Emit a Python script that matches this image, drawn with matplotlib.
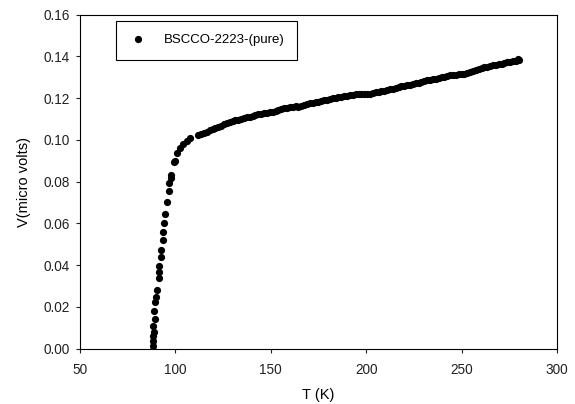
import matplotlib.pyplot as plt

plt.rcParams['font.family'] = ['Liberation Sans', 'DejaVu Sans']

t_steep = [88.1, 88.4, 88.4, 89.0, 88.4, 89.1, 88.8, 89.5, 89.8, 90.2,
           91.2, 91.2, 91.6, 92.3, 92.6, 93.3, 93.7, 94.0, 94.7, 95.8,
           96.5, 96.8, 97.5, 97.8, 99.3, 99.9, 101.0, 102.4, 103.8, 105.9,
           107.7]
v_steep = [0.0013, 0.0038, 0.0062, 0.0081, 0.0109, 0.0141, 0.0179, 0.0225, 0.0249, 0.0281,
           0.0337, 0.0369, 0.0396, 0.0438, 0.0473, 0.0521, 0.0560, 0.0604, 0.0645, 0.0701,
           0.0757, 0.0792, 0.0816, 0.0834, 0.0893, 0.0900, 0.0936, 0.0960, 0.0980, 0.0995,
           0.1008]

# normal-state region (dense band)
t_band = [112, 113.5, 115, 116.5, 118, 119.5, 121, 122.5, 124, 125.5,
          127, 128.5, 130, 131.5, 133, 134.5, 136, 137.5, 139, 140.5,
          142, 143.5, 145, 146.5, 148, 149.5, 151, 152.5, 154, 155.5,
          157, 158.5, 160, 161.5, 163, 164.5, 166, 167.5, 169, 170.5,
          172, 173.5, 175, 176.5, 178, 179.5, 181, 182.5, 184, 185.5,
          187, 188.5, 190, 191.5, 193, 194.5, 196, 197.5, 199, 200.5,
          202, 203.5, 205, 206.5, 208, 209.5, 211, 212.5, 214, 215.5,
          217, 218.5, 220, 221.5, 223, 224.5, 226, 227.5, 229, 230.5,
          232, 233.5, 235, 236.5, 238, 239.5, 241, 242.5, 244, 245.5,
          247, 248.5, 250, 251.5, 253, 254.5, 256, 257.5, 259, 260.5,
          262, 263.5, 265, 266.5, 268, 269.5, 271, 272.5, 274, 275.5,
          277, 278.5, 279.5, 280]
v_band = [0.1022, 0.1028, 0.1034, 0.1040, 0.1046, 0.1052, 0.1059, 0.1063, 0.1068, 0.1074,
          0.1079, 0.1085, 0.1090, 0.1094, 0.1097, 0.1102, 0.1106, 0.1110, 0.1112, 0.1116,
          0.1118, 0.1122, 0.1125, 0.1128, 0.1130, 0.1132, 0.1136, 0.1140, 0.1144, 0.1148,
          0.1151, 0.1153, 0.1156, 0.1158, 0.1161, 0.1160, 0.1162, 0.1167, 0.1172, 0.1176,
          0.1178, 0.1180, 0.1183, 0.1186, 0.1190, 0.1193, 0.1196, 0.1199, 0.1201, 0.1204,
          0.1206, 0.1209, 0.1212, 0.1215, 0.1216, 0.1218, 0.1219, 0.1219, 0.1220, 0.1220,
          0.1222, 0.1225, 0.1228, 0.1231, 0.1234, 0.1236, 0.1239, 0.1242, 0.1246, 0.1249,
          0.1253, 0.1256, 0.1259, 0.1262, 0.1265, 0.1268, 0.1272, 0.1275, 0.1278, 0.1282,
          0.1285, 0.1288, 0.1291, 0.1294, 0.1297, 0.1300, 0.1303, 0.1306, 0.1309, 0.1311,
          0.1313, 0.1314, 0.1315, 0.1317, 0.1320, 0.1325, 0.1330, 0.1335, 0.1340, 0.1344,
          0.1348, 0.1351, 0.1354, 0.1357, 0.1359, 0.1362, 0.1365, 0.1368, 0.1371, 0.1373,
          0.1376, 0.1379, 0.1390, 0.1382]

T = t_steep + t_band
V = v_steep + v_band

fig = plt.figure(figsize=(5.75, 4.04), dpi=100)
ax = fig.add_axes([0.139, 0.137, 0.8296, 0.8267])

ax.plot(T, V, 'o', color='black', markersize=5.2, markeredgewidth=0,
        label='BSCCO-2223-(pure)')

ax.set_xlim(50, 300)
ax.set_ylim(0, 0.16)
ax.set_xticks([50, 100, 150, 200, 250, 300])
ax.set_yticks([0.00, 0.02, 0.04, 0.06, 0.08, 0.10, 0.12, 0.14, 0.16])
ax.set_yticklabels(['0.00', '0.02', '0.04', '0.06', '0.08', '0.10', '0.12', '0.14', '0.16'])
ax.tick_params(direction='out', length=3, width=0.8, labelsize=9.8, colors='#222222')
ax.tick_params(axis='x', pad=7)
ax.tick_params(axis='y', pad=4)
for s in ax.spines.values():
    s.set_linewidth(0.8)

ax.set_xlabel('T (K)', fontsize=10.5, labelpad=8)
ax.set_ylabel('V(micro volts)', fontsize=10.5, labelpad=9)

leg = ax.legend(loc='upper left', bbox_to_anchor=(0.0755, 0.981), borderaxespad=0,
                fancybox=False, edgecolor='black', framealpha=1, fontsize=9.5,
                borderpad=1.0, handletextpad=1.2, handlelength=1.4)
leg.get_frame().set_linewidth(0.8)

fig.savefig('out.png', dpi=100)
